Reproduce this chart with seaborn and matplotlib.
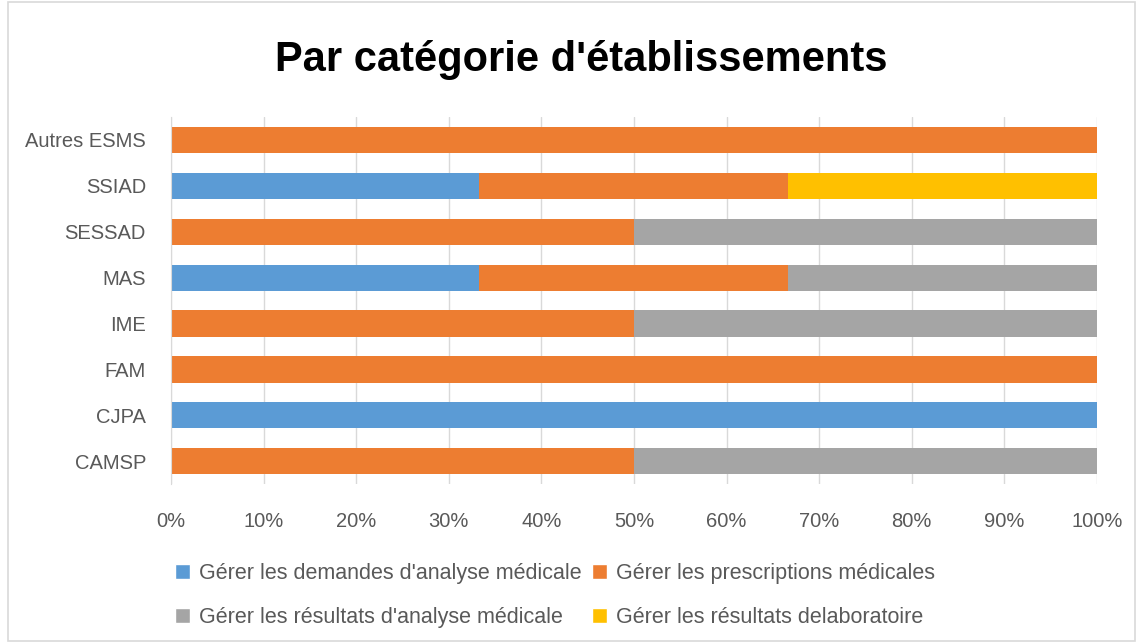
import matplotlib
matplotlib.use("Agg")
import matplotlib.pyplot as plt
import seaborn as sns
import pandas as pd
from matplotlib.patches import Rectangle, Patch
from matplotlib.ticker import PercentFormatter

# Data (percentages)
categories = ["Autres ESMS", "SSIAD", "SESSAD", "MAS", "IME", "FAM", "CJPA", "CAMSP"]
demandes = [0, 33.3, 0, 33.3, 0, 0, 100, 0]
prescriptions = [100, 33.3, 50, 33.3, 50, 100, 0, 50]
resultats_analyse = [0, 0, 50, 33.4, 50, 0, 0, 50]
resultats_labo = [0, 33.4, 0, 0, 0, 0, 0, 0]

series_names = [
    "Gérer les demandes d'analyse médicale",
    "Gérer les prescriptions médicales",
    "Gérer les résultats d'analyse médicale",
    "Gérer les résultats delaboratoire",
]
colors = ["#5B9BD5", "#ED7D31", "#A5A5A5", "#FFC000"]

df = pd.DataFrame({
    "cat": categories,
    series_names[0]: demandes,
    series_names[1]: prescriptions,
    series_names[2]: resultats_analyse,
    series_names[3]: resultats_labo,
})
cum = df[series_names].cumsum(axis=1)
cum["cat"] = df["cat"]

sns.set_style("white")
plt.rcParams["font.family"] = ["Liberation Sans", "DejaVu Sans"]

fig = plt.figure(figsize=(11.42, 6.43), dpi=100)
ax = fig.add_axes([0.1497, 0.247, 0.8109, 0.571])

# stacked bars: draw cumulative totals from the last series back to the first
for name, color in reversed(list(zip(series_names, colors))):
    sns.barplot(data=cum, x=name, y="cat", order=categories, color=color,
                width=0.57, saturation=1, ax=ax, linewidth=0)

ax.set_xlim(0, 100)
ax.set_xticks(range(0, 101, 10))
ax.xaxis.set_major_formatter(PercentFormatter(decimals=0))
ax.set_xlabel("")
ax.set_ylabel("")
ax.grid(axis="x", color="#D9D9D9", linewidth=1)
ax.set_axisbelow(True)
for side in ["top", "right", "bottom"]:
    ax.spines[side].set_visible(False)
ax.spines["left"].set_color("#D9D9D9")
ax.tick_params(axis="both", length=0, labelsize=14.5, colors="#595959")
ax.tick_params(axis="y", pad=18)
ax.tick_params(axis="x", pad=20)

fig.suptitle("Par catégorie d'établissements", fontsize=30, fontweight="bold",
             x=0.509, y=0.938, color="black")

# legend filled column-wise: order so rows read blue/orange, gray/yellow
order = [0, 2, 1, 3]
handles = [Patch(facecolor=colors[i], label=series_names[i]) for i in order]
fig.legend(handles=handles, ncol=2, loc="center", bbox_to_anchor=(0.486, 0.074),
           frameon=False, fontsize=15.5, handlelength=0.7, handleheight=0.7,
           handletextpad=0.4, columnspacing=0.5, labelspacing=1.05,
           labelcolor="#595959")

fig.patches.append(Rectangle((0.007, 0.003), 0.987, 0.994, transform=fig.transFigure,
                             fill=False, edgecolor="#D9D9D9", linewidth=1.2))

fig.savefig("out.png", dpi=100)
